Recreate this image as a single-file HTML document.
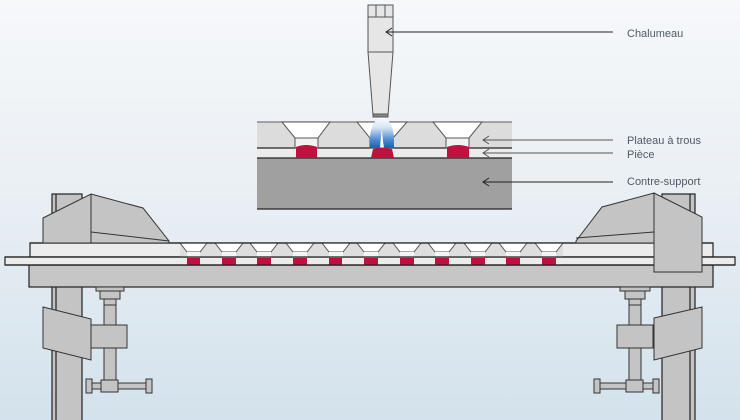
<!DOCTYPE html>
<html><head><meta charset="utf-8"><style>
html,body{margin:0;padding:0;}
body{width:740px;height:420px;overflow:hidden;}
svg{display:block;}
text{font-family:"Liberation Sans",sans-serif;font-size:11px;fill:#4f5a66;}
</style></head><body>
<svg width="740" height="420" viewBox="0 0 740 420" xmlns="http://www.w3.org/2000/svg">
<defs>
<linearGradient id="bg" x1="0" y1="0" x2="0" y2="1">
<stop offset="0" stop-color="#f6f8fa"/><stop offset="0.5" stop-color="#e8eef3"/><stop offset="1" stop-color="#d3e2ec"/>
</linearGradient>
<linearGradient id="fl" x1="0" y1="0" x2="0" y2="1">
<stop offset="0" stop-color="#ffffff"/><stop offset="0.35" stop-color="#d8e6f4"/><stop offset="0.75" stop-color="#4a8ad0"/><stop offset="1" stop-color="#1a5fb0"/>
</linearGradient>
</defs>
<rect width="740" height="420" fill="url(#bg)"/>

<g stroke="#222" stroke-width="1.2">
<rect x="257" y="122" width="255" height="26" fill="#dcdcdc" stroke="none"/>
<line x1="257" y1="122" x2="512" y2="122" stroke="#777"/>
<rect x="257" y="148" width="255" height="10" fill="#ececec" stroke="none"/>
<rect x="257" y="158" width="255" height="51" fill="#a0a0a0" stroke="none"/>
<line x1="257" y1="148" x2="512" y2="148"/>
<line x1="257" y1="158" x2="512" y2="158"/>
<line x1="257" y1="209" x2="512" y2="209"/>
<g stroke="#555" stroke-width="1">
<polygon points="282,122 330,122 318,138 295,138" fill="#fff"/>
<rect x="295" y="138" width="23" height="10" fill="#f2f2f2"/>
<polygon points="357,122 407,122 393,138 393,148 370,148 370,138" fill="#fff"/>
<polygon points="433,122 482,122 469,138 446,138" fill="#fff"/>
<rect x="446" y="138" width="23" height="10" fill="#f2f2f2"/>
</g>
<path d="M370,148 L370,136 Q372,120 382,116 Q392,120 394,136 L394,148 L384,148 Q382,135 382,128 Q381,135 380,148 Z" fill="url(#fl)" stroke="none"/>
<path d="M296,158 L296,147 Q306,143 317,147 L317,158 Z" fill="#c0103f" stroke="none"/>
<path d="M371,158 L373,149 Q382,147 392,149 L394,158 Z" fill="#c0103f" stroke="none"/>
<path d="M447,158 L447,147 Q458,143 469,147 L469,158 Z" fill="#c0103f" stroke="none"/>
<g stroke="#555" stroke-width="1">
<rect x="368" y="5" width="25" height="12" fill="#e6e6e6"/>
<line x1="376" y1="5" x2="376" y2="17"/><line x1="385" y1="5" x2="385" y2="17"/>
<rect x="368" y="17" width="25" height="35" fill="#e6e6e6"/>
<polygon points="368,52 393,52 388,115 373,115" fill="#e6e6e6"/>
<rect x="373" y="114" width="15" height="3" fill="#888"/>
</g>
<g stroke-width="1">
<line x1="386" y1="32" x2="613" y2="32"/>
<polyline points="392,28 386,32 392,36" fill="none"/>
<line x1="483" y1="140" x2="613" y2="140" stroke="#555"/>
<polyline points="489,136 483,140 489,144" fill="none" stroke="#555"/>
<line x1="483" y1="153" x2="613" y2="153" stroke="#555"/>
<polyline points="489,149 483,153 489,157" fill="none" stroke="#555"/>
<line x1="483" y1="182" x2="613" y2="182"/>
<polyline points="489,178 483,182 489,186" fill="none"/>
</g>

<rect x="52" y="194" width="30" height="230" fill="#c4c4c4"/>
<line x1="56" y1="194" x2="56" y2="420"/>
<rect x="662" y="194" width="33" height="230" fill="#c4c4c4"/>
<line x1="690" y1="194" x2="690" y2="420"/>

<rect x="29" y="265" width="684" height="22" fill="#c6c6c6"/>
<rect x="30" y="243" width="683" height="14" fill="#ececec"/>
<rect x="5" y="257" width="730" height="8" fill="#ececec"/>
</g>
<rect x="180" y="244" width="383" height="13" fill="#dedede"/>
<g stroke="#555" stroke-width="1">
<polygon points="180,243 207,243 200,252 187,252" fill="#fff"/>
<polygon points="215,243 243,243 236,252 222,252" fill="#fff"/>
<polygon points="250,243 278,243 271,252 257,252" fill="#fff"/>
<polygon points="286,243 314,243 307,252 293,252" fill="#fff"/>
<polygon points="322,243 350,243 343,252 329,252" fill="#fff"/>
<polygon points="357,243 385,243 378,252 364,252" fill="#fff"/>
<polygon points="393,243 421,243 414,252 400,252" fill="#fff"/>
<polygon points="428,243 456,243 449,252 435,252" fill="#fff"/>
<polygon points="464,243 492,243 485,252 471,252" fill="#fff"/>
<polygon points="499,243 527,243 520,252 506,252" fill="#fff"/>
<polygon points="535,243 563,243 556,252 542,252" fill="#fff"/>
</g>
<g fill="#f4f4f4">
<rect x="187" y="252" width="13" height="5"/><rect x="222" y="252" width="14" height="5"/><rect x="257" y="252" width="14" height="5"/><rect x="293" y="252" width="14" height="5"/><rect x="329" y="252" width="14" height="5"/><rect x="364" y="252" width="14" height="5"/><rect x="400" y="252" width="14" height="5"/><rect x="435" y="252" width="14" height="5"/><rect x="471" y="252" width="14" height="5"/><rect x="506" y="252" width="14" height="5"/><rect x="542" y="252" width="14" height="5"/>
</g>
<g fill="#c0103f">
<rect x="187" y="258" width="13" height="7"/><rect x="222" y="258" width="14" height="7"/><rect x="257" y="258" width="14" height="7"/><rect x="293" y="258" width="14" height="7"/><rect x="329" y="258" width="13" height="7"/><rect x="364" y="258" width="14" height="7"/><rect x="400" y="258" width="14" height="7"/><rect x="435" y="258" width="14" height="7"/><rect x="471" y="258" width="14" height="7"/><rect x="506" y="258" width="14" height="7"/><rect x="542" y="258" width="14" height="7"/>
</g>
<g stroke="#222" stroke-width="1.2">
<line x1="30" y1="243" x2="713" y2="243"/>
<line x1="5" y1="257" x2="735" y2="257"/>
<line x1="5" y1="265" x2="735" y2="265"/>
</g>

<g stroke="#333" stroke-width="1" fill="#c4c4c4">
<polygon points="43,218 91,194 143,208 169,241 169,243 43,243"/>
<polyline points="91,194 91,243" fill="none"/>
<polyline points="91,232 169,241" fill="none"/>
<polygon points="43,307 91,319 91,360 43,348"/>
<rect x="96" y="287" width="28" height="4"/>
<rect x="100" y="291" width="20" height="8"/>
<rect x="104" y="299" width="12" height="6"/>
<rect x="104" y="305" width="12" height="20"/>
<rect x="91" y="325" width="36" height="23"/>
<rect x="104" y="348" width="12" height="32"/>
<rect x="89" y="383" width="60" height="6"/>
<rect x="86" y="379" width="6" height="14"/>
<rect x="146" y="379" width="6" height="14"/>
<rect x="101" y="380" width="17" height="12"/>
<polygon points="576,241 602,207 654,193 654,243 576,243"/>
<polyline points="576,238 654,232" fill="none"/>
<polygon points="654,193 702,217 702,272 654,272"/>
<polygon points="654,318 702,307 702,348 654,360"/>
<rect x="620" y="287" width="30" height="4"/>
<rect x="625" y="291" width="20" height="8"/>
<rect x="629" y="299" width="12" height="6"/>
<rect x="629" y="305" width="12" height="20"/>
<rect x="617" y="325" width="36" height="23"/>
<rect x="629" y="348" width="12" height="32"/>
<rect x="596" y="383" width="60" height="6"/>
<rect x="594" y="379" width="6" height="14"/>
<rect x="653" y="379" width="6" height="14"/>
<rect x="626" y="380" width="17" height="12"/>
</g>

<text x="627" y="37">Chalumeau</text>
<text x="627" y="144">Plateau à trous</text>
<text x="627" y="158">Pièce</text>
<text x="627" y="185">Contre-support</text>
</svg>
</body></html>
